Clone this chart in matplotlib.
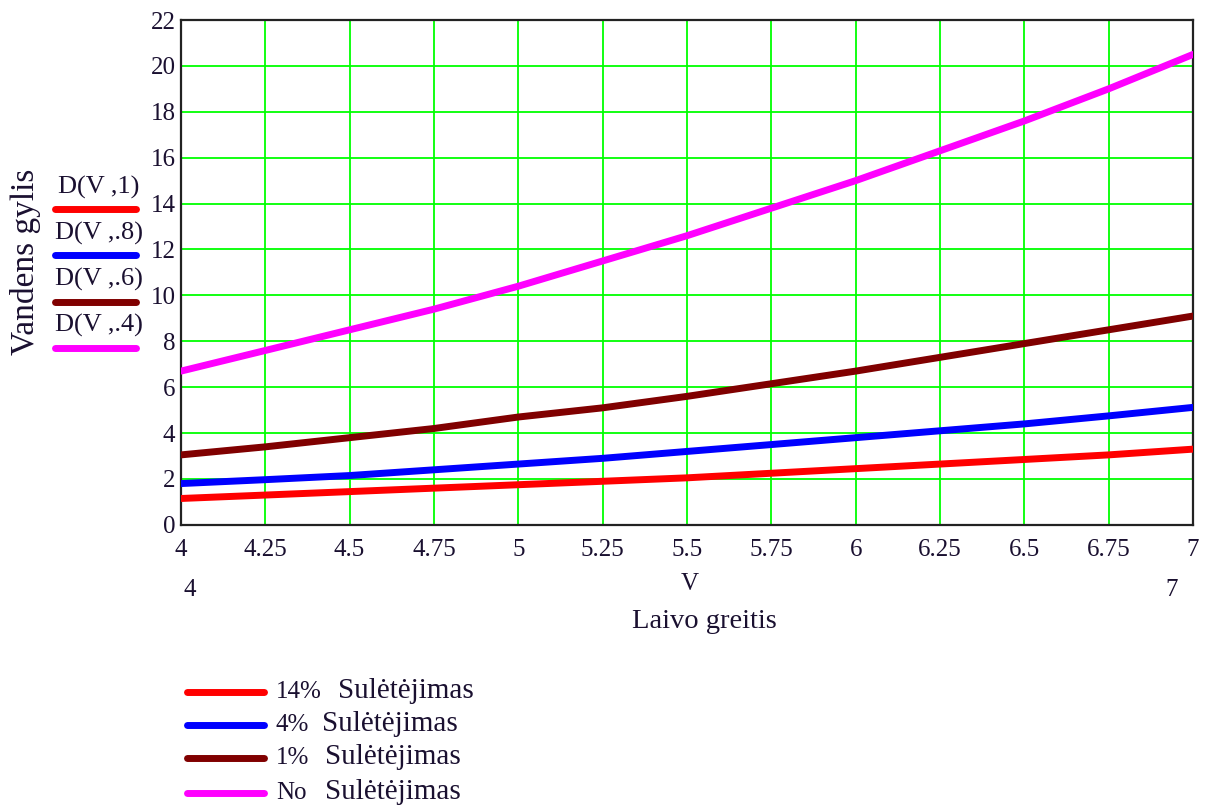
import matplotlib.pyplot as plt
from matplotlib.lines import Line2D

plt.rcParams['font.family'] = ['Liberation Serif', 'DejaVu Serif']

V = [4, 4.25, 4.5, 4.75, 5, 5.25, 5.5, 5.75, 6, 6.25, 6.5, 6.75, 7]
d_1 = [1.15, 1.3, 1.45, 1.6, 1.75, 1.9, 2.05, 2.25, 2.45, 2.65, 2.85, 3.05, 3.3]
d_08 = [1.8, 1.97, 2.15, 2.4, 2.65, 2.9, 3.2, 3.5, 3.8, 4.1, 4.4, 4.75, 5.12]
d_06 = [3.05, 3.4, 3.8, 4.2, 4.7, 5.1, 5.6, 6.15, 6.7, 7.3, 7.9, 8.5, 9.1]
d_04 = [6.7, 7.6, 8.5, 9.4, 10.4, 11.5, 12.6, 13.8, 15.0, 16.3, 17.6, 19.0, 20.5]

series = [d_1, d_08, d_06, d_04]
colors = ['#ff0000', '#0000ff', '#800000', '#ff00ff']
fn_labels = ['D(V ,1)', 'D(V ,.8)', 'D(V ,.6)', 'D(V ,.4)']
pct_labels = ['14%', '4%', '1%', 'No']
txt_col = '#1a1030'

fig = plt.figure(figsize=(12.12, 8.10), dpi=100)
ax = fig.add_axes([0.1493, 0.352, 0.835, 0.6233])

for y, c in zip(series, colors):
    ax.plot(V, y, color=c, lw=5, solid_capstyle='round', zorder=3)

ax.set_xlim(4, 7)
ax.set_ylim(0, 22)
ax.set_xticks(V)
ax.set_xticklabels(['4', '4.25', '4.5', '4.75', '5', '5.25', '5.5', '5.75',
                    '6', '6.25', '6.5', '6.75', '7'])
ax.set_yticks(range(0, 23, 2))
ax.grid(True, color='#00ff00', lw=1.3)
ax.tick_params(length=0, labelsize=18, labelcolor=txt_col)
ax.tick_params(axis='x', pad=10)
ax.tick_params(axis='y', pad=4)
for s in ax.spines.values():
    s.set_linewidth(1.6)
    s.set_color('#222222')

# mathcad range markers under the x axis
fig.text(190 / 1212, 1 - 590 / 810, '4', fontsize=18, color=txt_col, ha='center', va='center')
fig.text(690 / 1212, 1 - 584 / 810, 'V', fontsize=18, color=txt_col, ha='center', va='center')
fig.text(1172 / 1212, 1 - 590 / 810, '7', fontsize=18, color=txt_col, ha='center', va='center')
fig.text(704 / 1212, 1 - 621 / 810, 'Laivo greitis', fontsize=20.5, color=txt_col,
         ha='center', va='center')
fig.text(26 / 1212, 1 - 262 / 810, 'Vandens gylis', fontsize=24, color=txt_col,
         ha='center', va='center', rotation=90)

# left trace labels
for i, (lab, c) in enumerate(zip(fn_labels, colors)):
    yl = 209 + i * 46.3
    fig.add_artist(Line2D([55 / 1212, 136 / 1212], [1 - yl / 810, 1 - yl / 810],
                          color=c, lw=5, solid_capstyle='round'))
    fig.text(99 / 1212, 1 - (yl - 22) / 810, lab, fontsize=19, color=txt_col,
             ha='center', va='center')

# bottom legend
ys = [692, 725, 758, 793]
xs_word = [338, 322, 325, 325]
for c, p, yl, xw in zip(colors, pct_labels, ys, xs_word):
    fig.add_artist(Line2D([187 / 1212, 264 / 1212], [1 - yl / 810, 1 - yl / 810],
                          color=c, lw=5, solid_capstyle='round'))
    fig.text(276 / 1212, 1 - yl / 810, p, fontsize=18, color=txt_col, ha='left', va='center')
    fig.text(xw / 1212, 1 - (yl - 1) / 810, 'Sulėtėjimas', fontsize=21, color=txt_col,
             ha='left', va='center')

fig.savefig('out.png', dpi=100)
